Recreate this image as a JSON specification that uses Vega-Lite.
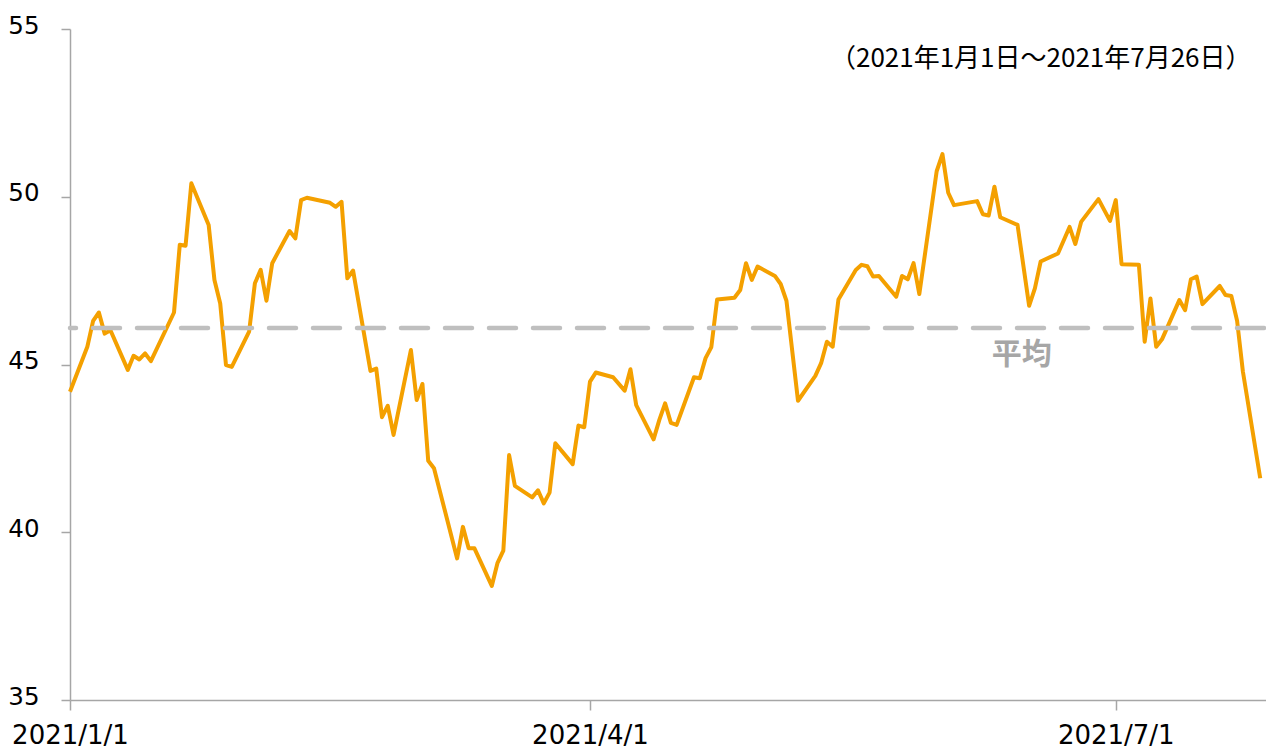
{
  "$schema": "https://vega.github.io/schema/vega-lite/v6.json",
  "autosize": "none",
  "width": 1196,
  "height": 671,
  "padding": {"left": 70, "top": 29, "right": 0, "bottom": 51},
  "background": "white",
  "config": {"view": {"stroke": null}},
  "layer": [
    {
      "data": {"values": [
        {"date":"2021-01-01","v":44.19},{"date":"2021-01-04","v":45.53},{"date":"2021-01-05","v":46.30},{"date":"2021-01-06","v":46.55},{"date":"2021-01-07","v":45.92},{"date":"2021-01-08","v":46.02},
        {"date":"2021-01-11","v":44.84},{"date":"2021-01-12","v":45.26},{"date":"2021-01-13","v":45.15},{"date":"2021-01-14","v":45.33},{"date":"2021-01-15","v":45.10},
        {"date":"2021-01-19","v":46.55},{"date":"2021-01-20","v":48.57},{"date":"2021-01-21","v":48.54},{"date":"2021-01-22","v":50.40},
        {"date":"2021-01-25","v":49.16},{"date":"2021-01-26","v":47.52},{"date":"2021-01-27","v":46.82},{"date":"2021-01-28","v":44.98},{"date":"2021-01-29","v":44.93},
        {"date":"2021-02-01","v":45.98},{"date":"2021-02-02","v":47.42},{"date":"2021-02-03","v":47.82},{"date":"2021-02-04","v":46.90},{"date":"2021-02-05","v":48.02},
        {"date":"2021-02-08","v":48.98},{"date":"2021-02-09","v":48.76},{"date":"2021-02-10","v":49.90},{"date":"2021-02-11","v":49.97},
        {"date":"2021-02-15","v":49.82},{"date":"2021-02-16","v":49.70},{"date":"2021-02-17","v":49.85},{"date":"2021-02-18","v":47.57},{"date":"2021-02-19","v":47.80},
        {"date":"2021-02-22","v":44.81},{"date":"2021-02-23","v":44.88},{"date":"2021-02-24","v":43.43},{"date":"2021-02-25","v":43.77},{"date":"2021-02-26","v":42.90},
        {"date":"2021-03-01","v":45.43},{"date":"2021-03-02","v":43.94},{"date":"2021-03-03","v":44.42},{"date":"2021-03-04","v":42.13},{"date":"2021-03-05","v":41.91},
        {"date":"2021-03-09","v":39.22},{"date":"2021-03-10","v":40.16},{"date":"2021-03-11","v":39.52},{"date":"2021-03-12","v":39.52},
        {"date":"2021-03-15","v":38.40},{"date":"2021-03-16","v":39.09},{"date":"2021-03-17","v":39.45},{"date":"2021-03-18","v":42.30},{"date":"2021-03-19","v":41.38},
        {"date":"2021-03-22","v":41.04},{"date":"2021-03-23","v":41.25},{"date":"2021-03-24","v":40.86},{"date":"2021-03-25","v":41.18},{"date":"2021-03-26","v":42.65},
        {"date":"2021-03-29","v":42.03},{"date":"2021-03-30","v":43.18},{"date":"2021-03-31","v":43.13},{"date":"2021-04-01","v":44.49},{"date":"2021-04-02","v":44.76},
        {"date":"2021-04-05","v":44.62},{"date":"2021-04-07","v":44.22},{"date":"2021-04-08","v":44.86},{"date":"2021-04-09","v":43.79},
        {"date":"2021-04-12","v":42.77},{"date":"2021-04-13","v":43.35},{"date":"2021-04-14","v":43.84},{"date":"2021-04-15","v":43.26},{"date":"2021-04-16","v":43.20},
        {"date":"2021-04-19","v":44.62},{"date":"2021-04-20","v":44.59},{"date":"2021-04-21","v":45.19},{"date":"2021-04-22","v":45.52},{"date":"2021-04-23","v":46.94},
        {"date":"2021-04-26","v":46.99},{"date":"2021-04-27","v":47.22},{"date":"2021-04-28","v":48.02},{"date":"2021-04-29","v":47.52},{"date":"2021-04-30","v":47.92},
        {"date":"2021-05-03","v":47.64},{"date":"2021-05-04","v":47.40},{"date":"2021-05-05","v":46.90},{"date":"2021-05-07","v":43.92},
        {"date":"2021-05-10","v":44.66},{"date":"2021-05-11","v":45.04},{"date":"2021-05-12","v":45.68},{"date":"2021-05-13","v":45.53},{"date":"2021-05-14","v":46.94},
        {"date":"2021-05-17","v":47.82},{"date":"2021-05-18","v":47.97},{"date":"2021-05-19","v":47.93},{"date":"2021-05-20","v":47.62},{"date":"2021-05-21","v":47.64},
        {"date":"2021-05-24","v":47.02},{"date":"2021-05-25","v":47.64},{"date":"2021-05-26","v":47.54},{"date":"2021-05-27","v":48.02},{"date":"2021-05-28","v":47.10},
        {"date":"2021-05-31","v":50.76},{"date":"2021-06-01","v":51.27},{"date":"2021-06-02","v":50.12},{"date":"2021-06-03","v":49.75},
        {"date":"2021-06-07","v":49.87},{"date":"2021-06-08","v":49.48},{"date":"2021-06-09","v":49.44},{"date":"2021-06-10","v":50.30},{"date":"2021-06-11","v":49.39},
        {"date":"2021-06-14","v":49.16},{"date":"2021-06-16","v":46.75},{"date":"2021-06-17","v":47.27},{"date":"2021-06-18","v":48.07},
        {"date":"2021-06-21","v":48.31},{"date":"2021-06-23","v":49.10},{"date":"2021-06-24","v":48.59},{"date":"2021-06-25","v":49.25},
        {"date":"2021-06-28","v":49.93},{"date":"2021-06-30","v":49.28},{"date":"2021-07-01","v":49.90},{"date":"2021-07-02","v":47.99},
        {"date":"2021-07-05","v":47.97},{"date":"2021-07-06","v":45.68},{"date":"2021-07-07","v":46.97},{"date":"2021-07-08","v":45.53},{"date":"2021-07-09","v":45.75},
        {"date":"2021-07-12","v":46.92},{"date":"2021-07-13","v":46.62},{"date":"2021-07-14","v":47.54},{"date":"2021-07-15","v":47.62},{"date":"2021-07-16","v":46.80},
        {"date":"2021-07-19","v":47.34},{"date":"2021-07-20","v":47.07},{"date":"2021-07-21","v":47.04},{"date":"2021-07-22","v":46.30},{"date":"2021-07-23","v":44.79},
        {"date":"2021-07-26","v":41.61}
      ]},
      "mark": {"type": "line", "color": "#F4A000", "strokeWidth": 4, "strokeJoin": "round"},
      "encoding": {
        "x": {
          "field": "date", "type": "temporal",
          "scale": {"type": "utc", "domain": [{"year": 2021, "month": 1, "date": 1, "utc": true}, {"year": 2021, "month": 7, "date": 27, "utc": true}]},
          "axis": {
            "title": null,
            "values": [{"year": 2021, "month": 1, "date": 1, "utc": true}, {"year": 2021, "month": 4, "date": 1, "utc": true}, {"year": 2021, "month": 7, "date": 1, "utc": true}],
            "labelExpr": "utcFormat(datum.value, '%Y/%-m/%-d')",
            "labelFont": "DejaVu Sans", "labelFontSize": 26, "labelColor": "#000000",
            "labelPadding": 12, "labelFlush": false, "labelOverlap": false,
            "tickSize": 10, "tickColor": "#A6A6A6", "domainColor": "#A6A6A6", "domainWidth": 1.5, "tickWidth": 1.5,
            "grid": false
          }
        },
        "y": {
          "field": "v", "type": "quantitative",
          "scale": {"domain": [35, 55], "nice": false, "zero": false},
          "axis": {
            "title": null, "values": [35, 40, 45, 50, 55],
            "labelFont": "DejaVu Sans", "labelFontSize": 24.5, "labelColor": "#000000",
            "labelPadding": 22, "labelOffset": -3,
            "tickSize": 9, "tickColor": "#A6A6A6", "domainColor": "#A6A6A6", "domainWidth": 1.5, "tickWidth": 1.5,
            "grid": false
          }
        }
      }
    },
    {
      "data": {"values": [{"avg": 46.09}]},
      "mark": {"type": "rule", "color": "#BFBFBF", "strokeWidth": 4.5, "strokeDash": [27, 17], "strokeDashOffset": -2, "strokeCap": "round"},
      "encoding": {"y": {"field": "avg", "type": "quantitative"}}
    },
    {
      "data": {"values": [{"label": "平均"}]},
      "mark": {"type": "text", "font": "Noto Sans CJK JP", "fontWeight": "bold", "fontSize": 30, "color": "#A6A6A6", "align": "center", "baseline": "middle"},
      "encoding": {
        "text": {"field": "label"},
        "x": {"datum": {"year": 2021, "month": 6, "date": 14, "hours": 17, "utc": true}, "type": "temporal", "scale": {"type": "utc"}},
        "y": {"datum": 45.27, "type": "quantitative"}
      }
    },
    {
      "data": {"values": [{"label": "（2021年1月1日～2021年7月26日）"}]},
      "mark": {"type": "text", "font": "Noto Sans CJK JP", "fontWeight": 400, "fontSize": 26, "color": "#000000", "align": "right", "baseline": "middle"},
      "encoding": {
        "text": {"field": "label"},
        "x": {"datum": {"year": 2021, "month": 7, "date": 24, "hours": 12, "utc": true}, "type": "temporal", "scale": {"type": "utc"}},
        "y": {"datum": 54.1, "type": "quantitative"}
      }
    }
  ]
}
